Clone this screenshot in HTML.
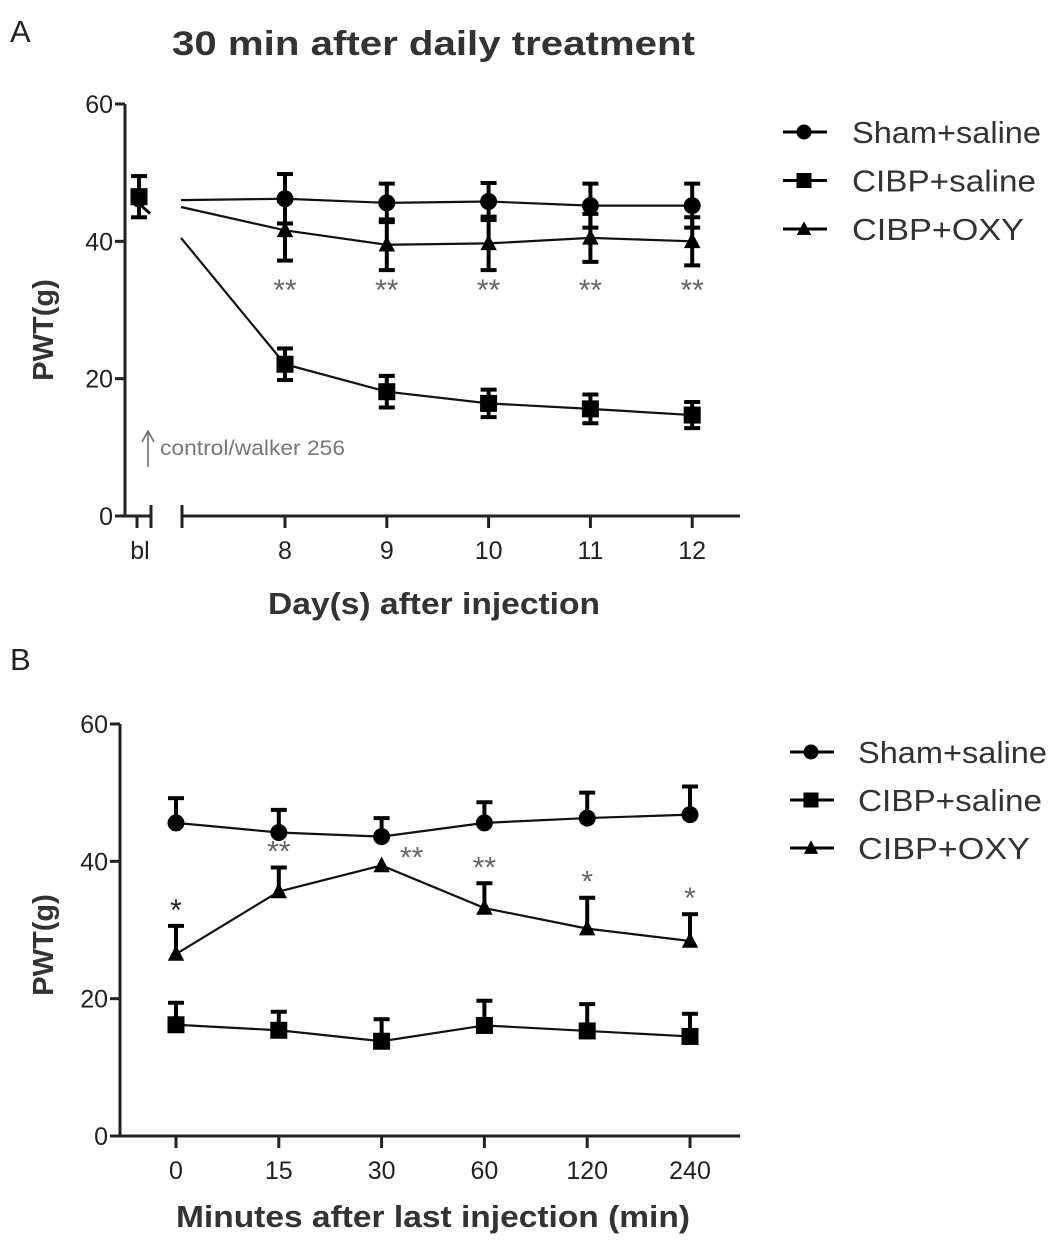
<!DOCTYPE html>
<html><head><meta charset="utf-8"><style>
body{margin:0;background:#fff;width:1063px;height:1245px;overflow:hidden}
svg text{font-family:"Liberation Sans",sans-serif}
</style></head><body>
<svg id="fig" width="1063" height="1245" viewBox="0 0 1063 1245" xmlns="http://www.w3.org/2000/svg">
<text x="10" y="42" font-size="31" fill="#222">A</text>
<text x="172" y="55" font-size="34" font-weight="bold" fill="#333" textLength="523" lengthAdjust="spacingAndGlyphs">30 min after  daily treatment</text>
<text x="10" y="670" font-size="31" fill="#222">B</text>
<g id="gA"></g>
<g id="gB"></g>
</svg>
<script>
// Panel A data
const catsA = ["8","9","10","11","12"];
const blA = {sham:46, saline:46.5, oxy:45.5};
const blErrA = {sham:2, saline:3, oxy:2};
const startA = {sham:46, saline:40.5, oxy:45};
const shamA = [46.2,45.6,45.8,45.2,45.2];
const shamErrA = [3.6,2.8,2.7,3.2,3.2];
const salineA = [22.1,18.1,16.4,15.6,14.7];
const salineErrA = [2.3,2.3,2.0,2.1,1.9];
const oxyA = [41.6,39.5,39.7,40.5,40.0];
const oxyErrA = [4.4,3.7,3.9,3.5,3.5];
const starsA = ["**","**","**","**","**"];
// Panel B data
const catsB = ["0","15","30","60","120","240"];
const shamB = [45.6,44.2,43.6,45.6,46.3,46.8];
const shamErrB = [3.6,3.3,2.7,3.0,3.7,4.1];
const salineB = [16.2,15.4,13.8,16.1,15.3,14.5];
const salineErrB = [3.2,2.7,3.2,3.6,3.9,3.3];
const oxyB = [26.5,35.6,39.4,33.2,30.2,28.4];
const oxyErrB = [4.1,3.5,0,3.6,4.5,3.9];
const starsB = ["*","**","**","**","*","*"];
const yTicks = [0,20,40,60];

const NS="http://www.w3.org/2000/svg";
function mk(tag,attrs,parent,txt){const e=document.createElementNS(NS,tag);for(const k in attrs)e.setAttribute(k,attrs[k]);if(txt!==undefined)e.textContent=txt;parent.appendChild(e);return e;}
function marker(g,type,x,y,s){
  let m;
  if(type==='circle'){m=mk('circle',{cx:x,cy:y,r:s*0.5,fill:'#000'},g);}
  else if(type==='square'){m=mk('rect',{x:x-s/2,y:y-s/2,width:s,height:s,fill:'#000'},g);}
  else {m=mk('polygon',{points:`${x},${y-s*0.6} ${x-s*0.55},${y+s*0.45} ${x+s*0.55},${y+s*0.45}`,fill:'#000'},g);}
  return m;
}
function errBar(g,x,y1,y2,both,yc){
  const e=mk('g',{},g);
  
  
  mk('line',{x1:x,y1:y1,x2:x,y2:both?y2:yc,stroke:'#000','stroke-width':4},e);
  mk('line',{x1:x-8,y1:y1,x2:x+8,y2:y1,stroke:'#000','stroke-width':4},e);
  if(both)mk('line',{x1:x-8,y1:y2,x2:x+8,y2:y2,stroke:'#000','stroke-width':4},e);
}
function yAxis(g,x0,ytop,ybot,yScale,title,tcy){
  const ax=mk('g',{},g);
  
  
  mk('line',{x1:x0,y1:ytop,x2:x0,y2:ybot+1,stroke:'#222','stroke-width':3},ax);
  yTicks.forEach(t=>{const y=yScale(t);
    mk('line',{x1:x0-10,y1:y,x2:x0,y2:y,stroke:'#222','stroke-width':3},ax);
    const tl=mk('text',{x:x0-12,y:y+9,'font-size':25,'text-anchor':'end',fill:'#222'},ax,String(t));
    
    
  });
  const tt=mk('text',{x:0,y:0,'font-size':29,'font-weight':'bold',fill:'#333','text-anchor':'middle',transform:`translate(53,${tcy}) rotate(-90)`},ax,title);
  
  
}
function legend(g,x,yStart,dy,tx){
  const items=[["Sham+saline","circle",189],["CIBP+saline","square",184],["CIBP+OXY","triangle",172]];
  items.forEach((it,i)=>{const y=yStart+i*dy;
    const lg=mk('g',{},g);
    
    
    mk('line',{x1:x,y1:y,x2:x+44,y2:y,stroke:'#000','stroke-width':3},lg);
    marker(lg,it[1],x+21,y,it[1]==='triangle'?13:15);
    mk('text',{x:tx,y:y+11,'font-size':31,fill:'#333',textLength:it[2],lengthAdjust:'spacingAndGlyphs'},lg,it[0]);
  });
}
function series(g,name,xs,vals,errs,type,yScale,both,extraStart){
  const s=mk('g',{},g);
  
  
  let pts=vals.map((v,i)=>`${xs[i]},${yScale(v)}`);
  if(extraStart)pts.unshift(`${extraStart[0]},${yScale(extraStart[1])}`);
  mk('polyline',{points:pts.join(' '),fill:'none',stroke:'#111','stroke-width':2.2},s);
  vals.forEach((v,i)=>{
    if(errs[i]>0)errBar(s,xs[i],yScale(v+errs[i]),yScale(v-errs[i]),both,yScale(v));
    const m=marker(s,type,xs[i],yScale(v),type==='triangle'?15:17);
    
    
  });
}
// Panel A
(function(){
  const g=document.getElementById('gA');
  const y=v=>516-v*(412/60);
  const xA=i=>285+i*101.8;
  const xs=catsA.map((c,i)=>xA(i));
  yAxis(g,125,104,516,y,"PWT(g)",330);
  const xa=mk('g',{},g);
  
  
  mk('line',{x1:124,y1:516,x2:151,y2:516,stroke:'#222','stroke-width':3},xa);
  mk('line',{x1:137,y1:516,x2:137,y2:528,stroke:'#222','stroke-width':3},xa);
  mk('line',{x1:151,y1:505,x2:151,y2:528,stroke:'#222','stroke-width':3},xa);
  mk('line',{x1:182,y1:516,x2:740,y2:516,stroke:'#222','stroke-width':3},xa);
  mk('line',{x1:182,y1:505,x2:182,y2:528,stroke:'#222','stroke-width':3},xa);
  mk('text',{x:140,y:559,'font-size':25,'text-anchor':'middle',fill:'#222'},xa,"bl");
  catsA.forEach((c,i)=>{mk('line',{x1:xs[i],y1:516,x2:xs[i],y2:528,stroke:'#222','stroke-width':3},xa);
    const t=mk('text',{x:xs[i],y:559,'font-size':25,'text-anchor':'middle',fill:'#222'},xa,c);
    
    });
  const xt=mk('text',{x:268,y:614,'font-size':31,'font-weight':'bold',fill:'#333',textLength:332,lengthAdjust:'spacingAndGlyphs'},g,"Day(s) after injection");
  
  
  const bl=mk('g',{},g);
  
  
  errBar(bl,139,y(blA.saline+blErrA.saline),y(blA.saline-blErrA.saline),true,0);
  marker(bl,'square',139,y(blA.saline),17);
  marker(bl,'circle',139,y(blA.sham),15);
  mk('line',{x1:139,y1:y(blA.oxy),x2:150,y2:y(blA.oxy)+10,stroke:'#000','stroke-width':3},bl);
  series(g,'sham-saline-series',xs,shamA,shamErrA,'circle',y,true,[181,startA.sham]);
  series(g,'cibp-oxy-series',xs,oxyA,oxyErrA,'triangle',y,true,[181,startA.oxy]);
  series(g,'cibp-saline-series',xs,salineA,salineErrA,'square',y,true,[181,startA.saline]);
  starsA.forEach((s,i)=>{const t=mk('text',{x:xs[i],y:300,'font-size':30,fill:'#666','text-anchor':'middle'},g,s);
    
    });
  const an=mk('g',{},g);
  
  
  mk('line',{x1:148,y1:467,x2:148,y2:432,stroke:'#666','stroke-width':1.5},an);
  mk('polyline',{points:'142,442 148,431 154,442',fill:'none',stroke:'#666','stroke-width':1.5},an);
  mk('text',{x:160,y:455,'font-size':21,fill:'#777',textLength:185,lengthAdjust:'spacingAndGlyphs'},an,"control/walker 256");
  legend(g,783,132,48.5,852);
})();
// Panel B
(function(){
  const g=document.getElementById('gB');
  const y=v=>1136-v*(412/60);
  const xs=catsB.map((c,i)=>176+i*102.8);
  yAxis(g,120,724,1136,y,"PWT(g)",945);
  const xa=mk('g',{},g);
  
  
  mk('line',{x1:119,y1:1136,x2:740,y2:1136,stroke:'#222','stroke-width':3},xa);
  catsB.forEach((c,i)=>{mk('line',{x1:xs[i],y1:1136,x2:xs[i],y2:1148,stroke:'#222','stroke-width':3},xa);
    const t=mk('text',{x:xs[i],y:1179,'font-size':25,'text-anchor':'middle',fill:'#222'},xa,c);
    
    });
  const xt=mk('text',{x:176,y:1227,'font-size':31,'font-weight':'bold',fill:'#333',textLength:514,lengthAdjust:'spacingAndGlyphs'},g,"Minutes after last injection (min)");
  
  
  series(g,'sham-saline-series',xs,shamB,shamErrB,'circle',y,false);
  series(g,'cibp-saline-series',xs,salineB,salineErrB,'square',y,false);
  series(g,'cibp-oxy-series',xs,oxyB,oxyErrB,'triangle',y,false);
  starsB.forEach((s,i)=>{
    let sx=xs[i], sy=y(oxyB[i]+oxyErrB[i])-6;
    if(i===2){sx=xs[i]+30; sy=y(oxyB[i])+2;}
    const t=mk('text',{x:sx,y:sy,'font-size':30,fill:i===0?'#222':'#666','text-anchor':'middle'},g,s);
    
    });
  legend(g,790,752,48,858);
})();
</script>
</body></html>
